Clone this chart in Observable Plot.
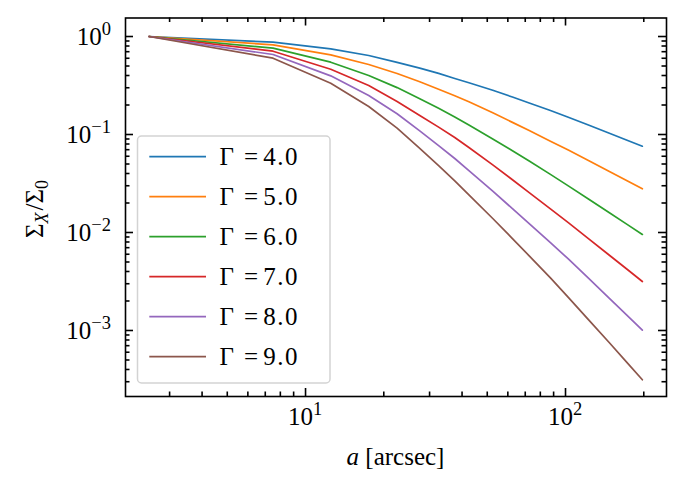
<!DOCTYPE html>
<html><head><meta charset="utf-8">
<script src="https://cdn.jsdelivr.net/npm/d3@7"></script>
<script src="https://cdn.jsdelivr.net/npm/@observablehq/plot@0.6"></script>
<style>
body{margin:0;background:#fff;}
#chart{position:relative;width:687px;height:490px;}
#chart svg text{font-family:"Liberation Serif","DejaVu Serif",serif;}
</style></head><body><div id="chart"></div>
<script>
// projected radius a [arcsec]
const radii = [2.5,7.5,12.5,17.5,22.5,27.5,32.5,37.5,42.5,52.5,62.5,72.5,87.5,102.5,122.5,147.5,172.5,197.5];
const gammas = [4.0,5.0,6.0,7.0,8.0,9.0];
const sigmaG4 = [1,0.875,0.748,0.640,0.545,0.476,0.420,0.373,0.337,0.283,0.241,0.210,0.176,0.150,0.125,0.103,0.0873,0.0759];
const sigmaG5 = [1,0.822,0.650,0.518,0.419,0.345,0.290,0.249,0.216,0.167,0.133,0.110,0.0855,0.0693,0.0542,0.0419,0.0337,0.0279];
const sigmaG6 = [1,0.760,0.547,0.400,0.301,0.232,0.185,0.151,0.125,0.0902,0.0682,0.0536,0.0392,0.0299,0.0220,0.0159,0.0121,0.00955];
const sigmaG7 = [1,0.708,0.463,0.316,0.217,0.156,0.119,0.0931,0.0736,0.0490,0.0345,0.0255,0.0174,0.0126,0.00867,0.00586,0.00422,0.00316];
const sigmaG8 = [1,0.655,0.397,0.250,0.163,0.109,0.0769,0.0569,0.0428,0.0264,0.0175,0.0123,0.00787,0.00537,0.00342,0.00213,0.00143,0.00101];
const sigmaG9 = [1,0.601,0.333,0.193,0.116,0.0721,0.0481,0.0337,0.0242,0.0139,0.00867,0.00578,0.00344,0.00218,0.00129,0.000750,0.000470,0.000314];
const colors = ["#1f77b4","#ff7f0e","#2ca02c","#d62728","#9467bd","#8c564b"];
const xMajor = [10,100];
const xMinor = [3,4,5,6,7,8,9,20,30,40,50,60,70,80,90,200];
const yMajor = [1e-3,1e-2,1e-1,1];
const yMinor = [3e-4,4e-4,5e-4,6e-4,7e-4,8e-4,9e-4,2e-3,3e-3,4e-3,5e-3,6e-3,7e-3,8e-3,9e-3,
                2e-2,3e-2,4e-2,5e-2,6e-2,7e-2,8e-2,9e-2,0.2,0.3,0.4,0.5,0.6,0.7,0.8,0.9];
const xExp = ["1","2"];
const yExp = ["\u22123","\u22122","\u22121","0"];
const legendLabels = ["4.0","5.0","6.0","7.0","8.0","9.0"];

const series = [sigmaG4,sigmaG5,sigmaG6,sigmaG7,sigmaG8,sigmaG9];
const data = gammas.flatMap((g,i)=>radii.map((a,j)=>({a, s:series[i][j], g})));

const L = 125, R = 666, T = 17.5, B = 396;
const xDomain = [2.03,244.6], yDomain = [2.12e-4,1.545];
// standalone copies of the plot's scales, used to find tick-end values
const xs = Plot.scale({x:{type:"log", domain:xDomain, range:[L,R]}});
const ys = Plot.scale({y:{type:"log", domain:yDomain, range:[B,T]}});
const MJ = 8, MN = 4.5, TW = 1.6;
const xTicks = (vals,len)=>[
  Plot.ruleX(vals,{x:d=>d, y1:yDomain[0], y2:ys.invert(B-len), stroke:"black", strokeWidth:TW}),
  Plot.ruleX(vals,{x:d=>d, y1:yDomain[1], y2:ys.invert(T+len), stroke:"black", strokeWidth:TW})
];
const yTicks = (vals,len)=>[
  Plot.ruleY(vals,{y:d=>d, x1:xDomain[0], x2:xs.invert(L+len), stroke:"black", strokeWidth:TW}),
  Plot.ruleY(vals,{y:d=>d, x1:xDomain[1], x2:xs.invert(R-len), stroke:"black", strokeWidth:TW})
];

const plot = Plot.plot({
  width:687, height:490,
  marginLeft:L, marginRight:687-R, marginTop:T, marginBottom:490-B,
  x:{type:"log", domain:xDomain, axis:null},
  y:{type:"log", domain:yDomain, axis:null},
  color:{domain:gammas, range:colors},
  marks:[
    Plot.line(data,{x:"a", y:"s", z:"g", stroke:"g", strokeWidth:1.7}),
    ...xTicks(xMajor,MJ), ...xTicks(xMinor,MN),
    ...yTicks(yMajor,MJ), ...yTicks(yMinor,MN),
    Plot.frame({stroke:"black", strokeWidth:1.6})
  ]
});
document.getElementById("chart").appendChild(plot);

const svg = d3.select(plot);
const sx = plot.scale("x"), sy = plot.scale("y");
const FS = 25;
// x tick labels
xMajor.forEach((v,i)=>{
  const t = svg.append("text").attr("x", sx.apply(v)).attr("y", 425)
    .attr("text-anchor","middle").attr("font-size",FS).attr("fill","black");
  t.append("tspan").text("10");
  t.append("tspan").attr("dy",-10).attr("font-size",FS*0.74).text(xExp[i]);
});
// y tick labels
yMajor.forEach((v,i)=>{
  const t = svg.append("text").attr("x", 111).attr("y", sy.apply(v)+9)
    .attr("text-anchor","end").attr("font-size",FS).attr("fill","black");
  t.append("tspan").text("10");
  t.append("tspan").attr("dy",-10).attr("font-size",FS*0.74).text(yExp[i]);
});
// x label
const xl = svg.append("text").attr("x",(L+R)/2).attr("y",465)
  .attr("text-anchor","middle").attr("font-size",FS).attr("fill","black");
xl.append("tspan").attr("font-style","italic").text("a");
xl.append("tspan").text(" [arcsec]");
// y label
const yl = svg.append("text").attr("transform","translate(43,209) rotate(-90)")
  .attr("text-anchor","middle").attr("font-size",FS).attr("fill","black");
yl.append("tspan").text("\u03A3");
yl.append("tspan").attr("dy",5).attr("font-size",FS*0.72).attr("font-style","italic").text("X");
yl.append("tspan").attr("dy",-5).attr("dx",2).text("/\u03A3");
yl.append("tspan").attr("dy",5).attr("font-size",FS*0.72).text("0");

// legend
const lg = svg.append("g");
lg.append("rect").attr("x",137.5).attr("y",136).attr("width",192.5).attr("height",247)
  .attr("rx",4).attr("fill","white").attr("fill-opacity",0.8)
  .attr("stroke","#d3d3d3").attr("stroke-width",1.5);
gammas.forEach((g,i)=>{
  const y = 156.7 + 40*i;
  lg.append("path").attr("d",`M149.3,${y}L206,${y}`)
    .attr("stroke",colors[i]).attr("stroke-width",1.7).attr("fill","none");
  const t = lg.append("text").attr("y",y+8.5).attr("font-size",FS).attr("fill","black");
  t.append("tspan").attr("x",226.7).text("\u0393");
  t.append("tspan").attr("x",251).text("=");
  t.append("tspan").attr("x",281).attr("letter-spacing",1.5).text(legendLabels[i]);
});
</script></body></html>
